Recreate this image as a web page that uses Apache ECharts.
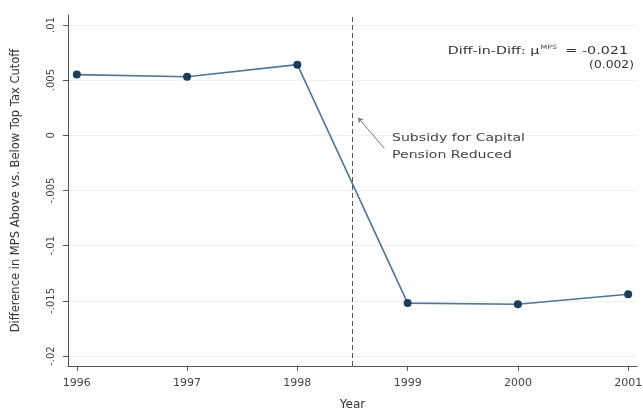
<!DOCTYPE html>
<html>
<head>
<meta charset="utf-8">
<script src="https://cdn.jsdelivr.net/npm/echarts@6/dist/echarts.min.js"></script>
<style>html,body{margin:0;padding:0;background:#fff}#c{width:643px;height:412px}</style>
</head>
<body>
<div id="c"></div>
<script>
// Years and the MPS gap (above minus below the top tax cutoff)
const years = [1996, 1997, 1998, 1999, 2000, 2001];
const mpsDiff = [0.0055, 0.0053, 0.0064, -0.0152, -0.0153, -0.0144];
const yTicks = [-0.02, -0.015, -0.01, -0.005, 0, 0.005, 0.01];
const yTickLabels = ['-.02', '-.015', '-.01', '-.005', '0', '.005', '.01'];
const reformYear = 1998.5;
const arrowFrom = [1998.55, 0.0016];
const arrowTo = [1998.79, -0.0012];

const font = 'DejaVu Sans, sans-serif';
const chart = echarts.init(document.getElementById('c'), null, {renderer: 'canvas'});

chart.setOption({
  backgroundColor: '#fff',
  animation: false,
  grid: {left: 68, right: 6, top: 15, bottom: 46, containLabel: false, outerBoundsMode: 'none'},
  xAxis: {
    type: 'value', min: 1995.92, max: 2001.08,
    name: 'Year', nameLocation: 'middle', nameGap: 33,
    nameTextStyle: {fontFamily: font, fontSize: 12, color: '#333'},
    axisLine: {show: true, onZero: false, lineStyle: {color: '#555', width: 1}},
    axisTick: {show: true, length: 5, customValues: years, lineStyle: {color: '#555'}},
    axisLabel: {customValues: years, fontFamily: font, fontSize: 11, color: '#444', margin: 12,
      formatter: v => String(Math.round(v))},
    splitLine: {show: false}
  },
  yAxis: {
    type: 'value', min: -0.0209, max: 0.0109,
    name: 'Difference in MPS Above vs. Below Top Tax Cutoff',
    nameLocation: 'middle', nameGap: 46, nameRotate: 90,
    nameTextStyle: {fontFamily: font, fontSize: 11.5, color: '#333'},
    axisLine: {show: true, onZero: false, lineStyle: {color: '#555', width: 1}},
    axisTick: {show: true, length: 5, customValues: yTicks, lineStyle: {color: '#555'}},
    axisLabel: {customValues: yTicks, rotate: 90, fontFamily: font, fontSize: 10, color: '#444', margin: 12,
      formatter: v => {
        const i = yTicks.findIndex(t => Math.abs(t - v) < 1e-9);
        return i >= 0 ? yTickLabels[i] : '';
      }},
    splitLine: {show: true, customValues: yTicks, lineStyle: {color: '#eef1f1', width: 1}}
  },
  series: [{
    type: 'line',
    data: years.map((y, i) => [y, mpsDiff[i]]),
    symbol: 'circle', symbolSize: 8,
    lineStyle: {color: '#4f7598', width: 1.6},
    itemStyle: {color: '#1d3d5c'},
    z: 3,
    markLine: {
      silent: true, symbol: ['none', 'none'], label: {show: false},
      data: [
        [{coord: [reformYear, -0.0209], lineStyle: {color: '#555', type: [5, 3], width: 1}},
         {coord: [reformYear, 0.0109]}],
        [{coord: arrowFrom, symbol: 'arrow', symbolSize: 5, lineStyle: {color: '#777', type: 'solid', width: 1}},
         {coord: arrowTo, symbol: 'none'}]
      ]
    }
  }],
  graphic: [
    {type: 'text', z: 100, x: 628, y: 51, scaleX: 1.3, style: {
      text: '{a|Diff-in-Diff: μ}{s|MPS}{a| = -0.021}', align: 'right', verticalAlign: 'middle',
      rich: {a: {fontFamily: font, fontSize: 11, fill: '#333'},
             s: {fontFamily: font, fontSize: 6, fill: '#444', verticalAlign: 'top', padding: [0, 3, 7, 1]}}
    }},
    {type: 'text', z: 100, x: 634, y: 65, scaleX: 1.12, style: {text: '(0.002)', align: 'right', verticalAlign: 'middle',
      fontFamily: font, fontSize: 11, fill: '#333'}},
    {type: 'text', z: 100, x: 392, y: 130, scaleX: 1.28, style: {text: 'Subsidy for Capital\nPension Reduced',
      verticalAlign: 'top', fontFamily: font, fontSize: 11, lineHeight: 17, fill: '#444'}}
  ]
});
</script>
</body>
</html>
